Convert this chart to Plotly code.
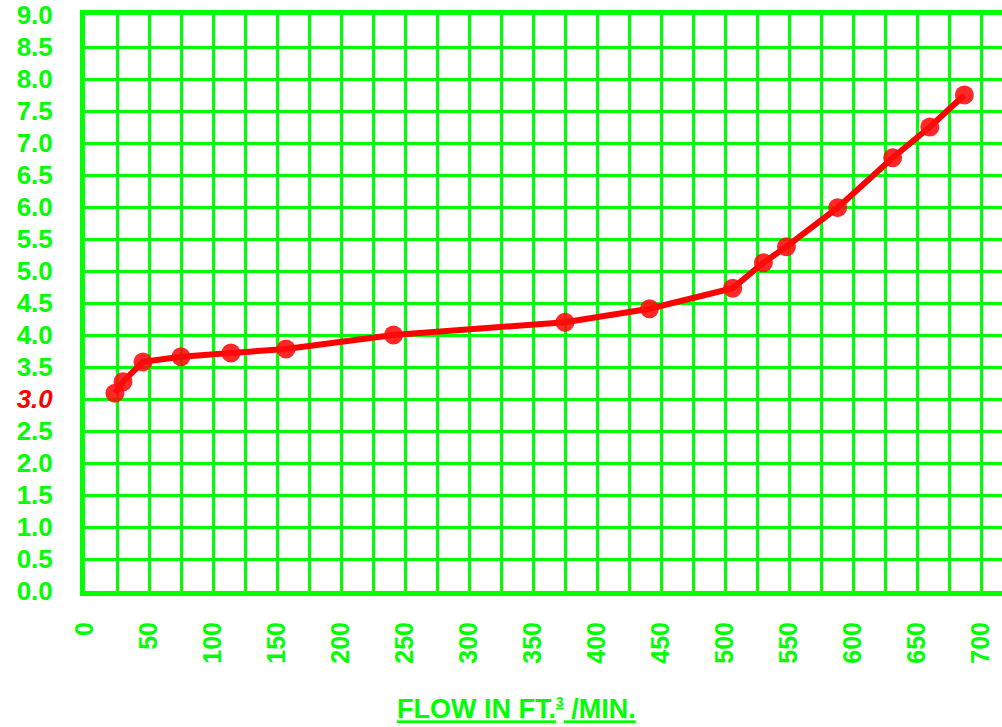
import plotly.graph_objects as go

flow = [23.4, 29.7, 45.3, 75, 114, 157, 241, 375, 441, 506, 530, 548, 588, 631, 660, 687]
value = [3.09, 3.27, 3.58, 3.66, 3.72, 3.78, 4.0, 4.20, 4.41, 4.73, 5.13, 5.38, 5.99, 6.77, 7.25, 7.75]

y_ticks = [i * 0.5 for i in range(19)]
y_labels = [f"{v:.1f}" for v in y_ticks]
y_labels[6] = "<i><span style='color:#ff0000'>3.0</span></i>"

x_ticks = list(range(0, 701, 25))
x_labels = [str(v) if v % 50 == 0 else "" for v in x_ticks]

GREEN = "#00ff00"
RED = "#ff0000"

fig = go.Figure()
fig.add_trace(go.Scatter(
    x=flow, y=value, mode="lines+markers",
    line=dict(color=RED, width=6),
    marker=dict(color="rgba(255,10,10,0.88)", size=19, line=dict(width=0)),
    showlegend=False,
))

fig.update_layout(
    width=1002, height=727,
    margin=dict(l=85, r=0, t=15, b=136),
    plot_bgcolor="white", paper_bgcolor="white",
    font=dict(family="Liberation Sans, Arial, sans-serif"),
    xaxis=dict(
        range=[0, 716.4], tickvals=x_ticks, ticktext=x_labels, tickangle=-90,
        showgrid=True, gridcolor=GREEN, gridwidth=3,
        showline=True, linecolor=GREEN, linewidth=5, mirror=True,
        zeroline=False, ticks="outside", ticklen=16, tickcolor="rgba(0,0,0,0)",
        tickfont=dict(color=GREEN, size=25, weight="bold"),
        ticklabeloverflow="allow", automargin=False,
    ),
    yaxis=dict(
        range=[0, 9], tickvals=y_ticks, ticktext=y_labels,
        showgrid=True, gridcolor=GREEN, gridwidth=3,
        showline=True, linecolor=GREEN, linewidth=5,
        zeroline=False, ticks="outside", ticklen=22, tickcolor="rgba(0,0,0,0)",
        tickfont=dict(color=GREEN, size=26, weight="bold"),
        ticklabeloverflow="allow", automargin=False,
    ),
    annotations=[dict(
        text="<u>FLOW IN FT.<sup><span style='font-size:14px'>3</span></sup> /MIN.</u>",
        xref="paper", yref="paper", x=0.471, y=-0.205,
        xanchor="center", yanchor="middle", showarrow=False,
        font=dict(color=GREEN, size=27, weight="bold"),
    )],
)

fig.write_html("out.html", config={"displayModeBar": False},
               post_script="document.body.style.margin='0';")
